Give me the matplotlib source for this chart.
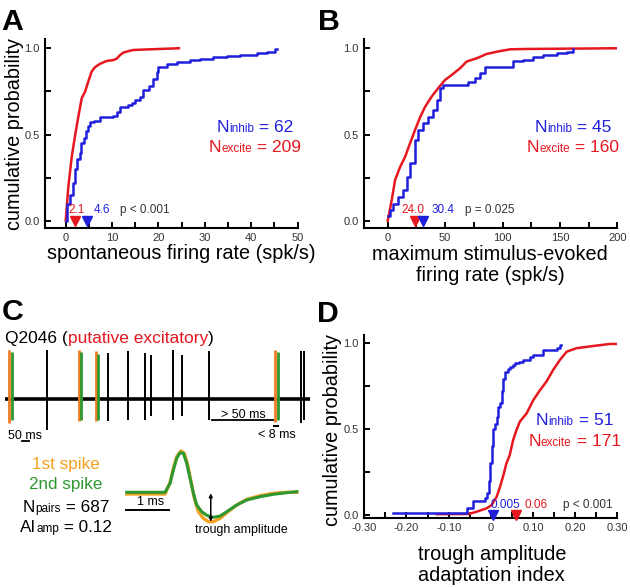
import matplotlib
matplotlib.use('Agg')
import matplotlib.pyplot as plt
from matplotlib.ticker import MultipleLocator, FixedLocator
from matplotlib.transforms import Affine2D, offset_copy

plt.rcParams['font.family'] = ['Liberation Sans', 'DejaVu Sans']

RED = '#E6171E'
BLUE = '#2020DC'
ORANGE = '#F4A21F'
ORANGE_TR = '#EF7B22'
GREEN = '#2E9830'
GREY = '#333333'

# ---- panel A: spontaneous firing rate (spk/s) ----
a_exc_x = [0, 0.57, 1.3, 2.0, 2.7, 3.45, 4.2, 4.9, 5.6, 6.3, 7.4, 8.8, 10.3, 11, 11.7, 12.4, 13.9, 14.6, 18.2, 24.4]
a_exc_y = [0, 0.197, 0.37, 0.49, 0.60, 0.71, 0.75, 0.81, 0.865, 0.89, 0.91, 0.926, 0.932, 0.94, 0.96, 0.975, 0.986, 0.99, 0.994, 1.0]
a_inh_x = [0, 0.2, 1.0, 1.5, 2.0, 2.4, 3.0, 3.4, 3.9, 4.3, 4.7, 5.3, 6.0, 7.4, 10.3, 11.0, 11.7, 13.5, 14.2, 15.0,
           16.0, 16.7, 18.0, 18.9, 19.6, 20.0, 21.8, 23.9, 26.8, 28.9, 31.8, 34.7, 37.6, 41.2, 43.3, 45.1, 45.5]
a_inh_y = [0, 0.10, 0.15, 0.22, 0.30, 0.36, 0.39, 0.45, 0.48, 0.52, 0.55, 0.57, 0.58, 0.60, 0.61, 0.63, 0.66, 0.67, 0.68, 0.70,
           0.72, 0.76, 0.78, 0.82, 0.86, 0.89, 0.91, 0.92, 0.93, 0.94, 0.95, 0.955, 0.96, 0.97, 0.98, 0.995, 0.995]
a_median = {'exc': 2.1, 'inh': 4.6}
a_n = {'inh': 62, 'exc': 209}

# ---- panel B: max stimulus-evoked firing rate (spk/s) ----
b_exc_x = [0, 3.5, 6.4, 10.7, 15.1, 19.5, 23.8, 28.2, 32.5, 38.3, 44.1, 49.9, 55.7, 63, 68.8, 77.5, 86.2, 95, 106.6, 121, 199.5]
b_exc_y = [0, 0.12, 0.236, 0.31, 0.37, 0.45, 0.526, 0.60, 0.66, 0.72, 0.77, 0.816, 0.845, 0.884, 0.923, 0.942, 0.967, 0.98, 0.994, 0.996, 1.0]
b_inh_x = [0, 2, 4.9, 9.3, 13.6, 16.6, 19.5, 23.8, 26.7, 31, 35.4, 39.8, 42.7, 45.6, 48.5, 67.4, 70.3, 76.1, 80.4, 84.8,
           106.6, 109.5, 118, 126.9, 135.6, 147.2, 156, 161.7]
b_inh_y = [0.03, 0.06, 0.10, 0.14, 0.178, 0.255, 0.333, 0.468, 0.526, 0.565, 0.60, 0.64, 0.70, 0.77, 0.787, 0.787, 0.807, 0.826, 0.855, 0.894,
           0.894, 0.926, 0.932, 0.952, 0.961, 0.971, 0.98, 0.994]
b_median = {'exc': 24.0, 'inh': 30.4}
b_n = {'inh': 45, 'exc': 160}

# ---- panel D: trough amplitude adaptation index ----
d_exc_x = [-0.128, -0.053, -0.034, -0.01, 0.002, 0.014, 0.022, 0.03, 0.037, 0.045, 0.053, 0.061, 0.069, 0.085, 0.101,
           0.117, 0.132, 0.148, 0.164, 0.18, 0.203, 0.243, 0.283, 0.298]
d_exc_y = [0.005, 0.006, 0.019, 0.039, 0.058, 0.107, 0.165, 0.233, 0.30, 0.35, 0.437, 0.495, 0.544, 0.592, 0.67,
           0.728, 0.777, 0.845, 0.903, 0.951, 0.971, 0.984, 0.996, 0.996]
d_inh_x = [-0.231, -0.057, -0.042, -0.014, -0.008, -0.004, -0.001, 0.002, 0.005, 0.010, 0.014, 0.018, 0.022, 0.026,
           0.030, 0.034, 0.040, 0.045, 0.052, 0.057, 0.068, 0.077, 0.093, 0.10, 0.124, 0.156, 0.164, 0.166]
d_inh_y = [0.014, 0.039, 0.083, 0.10, 0.13, 0.20, 0.30, 0.40, 0.50, 0.53, 0.57, 0.63, 0.65, 0.72,
           0.79, 0.835, 0.85, 0.864, 0.873, 0.883, 0.893, 0.903, 0.922, 0.932, 0.961, 0.971, 0.99, 0.99]
d_median = {'inh': 0.005, 'exc': 0.06}
d_n = {'inh': 51, 'exc': 171}

# ---- panel C: example trace (ms, amplitude) ----
black_t = [292, 723, 863, 980, 1022, 1178, 1237, 1430, 2072, 2093]
black_up = [49, 46, 48, 46, 44, 49, 44, 48, 48, 48]
black_dn = [-31, -22, -21, -21, -17, -21, -17, -21, -24, -21]
first_t = [29, 520, 637, 1891]
first_up = [49, 49, 48, 49]
first_dn = [-24, -22, -22, -23]
second_t = [48, 532, 653, 1909]
second_up = [47, 47, 45, 47]
second_dn = [-21, -21, -21, -21]
trace_len = 2135

# spike waveforms (ms, amplitude)
wf1_t = [0, 0.885, 1.0, 1.077, 1.154, 1.254, 1.331, 1.408, 1.485, 1.562, 1.654, 1.77, 1.885, 2.0, 2.155, 2.309,
         2.54, 2.771, 3.079, 3.386, 3.695, 3.926]
wf1_a = [-1.7, -1.7, 9.6, 24, 35.6, 41.3, 39, 27.3, 10.6, -6, -19.4, -26, -29.4, -29.4, -26, -20.4,
         -12.7, -7, -3.4, -1, 0, 0]
wf2_t = [0, 0.885, 1.0, 1.077, 1.154, 1.231, 1.308, 1.385, 1.462, 1.539, 1.616, 1.732, 1.847, 2.0, 2.155, 2.309,
         2.54, 2.771, 3.079, 3.386, 3.695, 3.926]
wf2_a = [0, 0, 9, 22.3, 34, 39.6, 39, 29, 14, -1, -12.7, -19.4, -23, -25, -23.7, -19.4,
         -12.7, -7.7, -4.4, -2, -0.4, 0.6]

W, H = 630, 587
fig = plt.figure(figsize=(W / 100, H / 100), dpi=100)
PX = Affine2D().scale(1, -1).translate(0, H)   # pixels from top-left
renderer = fig.canvas.get_renderer()


def rich(x, y, parts, transform, ha='center'):
    # several text pieces on one baseline
    arts = []
    for s, size, color in parts:
        t = fig.text(x, y, s, fontsize=size, color=color, transform=transform, ha='left', va='baseline')
        arts.append((t, t.get_window_extent(renderer).width))
    total = sum(w for _, w in arts)
    dx = -total / 2 if ha == 'center' else 0
    for t, w in arts:
        t.set_transform(offset_copy(transform, fig=fig, x=dx, y=0, units='dots'))
        dx += w


def px_axes(l, t, r, b):
    return fig.add_axes([l / W, 1 - b / H, (r - l) / W, (b - t) / H])


def cdf_axes(ax, xlim, ylim, major, minor):
    ax.set_xlim(*xlim)
    ax.set_ylim(*ylim)
    for s in ['top', 'right']:
        ax.spines[s].set_visible(False)
    for s in ['left', 'bottom']:
        ax.spines[s].set_linewidth(1.5)
    ax.xaxis.set_major_locator(MultipleLocator(major))
    ax.xaxis.set_minor_locator(MultipleLocator(minor))
    ax.yaxis.set_major_locator(FixedLocator([0, 0.5, 1.0]))
    ax.yaxis.set_minor_locator(FixedLocator([0.25, 0.75]))
    ax.set_yticklabels(['0.0', '0.5', '1.0'])
    ax.tick_params(which='both', direction='in', length=4, width=1.4, labelsize=8,
                   labelcolor=GREY)
    ax.tick_params(axis='x', pad=3.5)
    ax.tick_params(axis='y', pad=4)


def medians(ax, vals, labels, y_lab):
    for v, col in vals:
        ax.plot([v], [0.0], marker='v', ms=7, color=col, mec=col, clip_on=False, zorder=5)
    for x, s, col in labels:
        ax.text(x, y_lab, s, color=col, fontsize=8.5, ha='center', va='baseline')


def n_text(ax, x, y1, y2, n):
    rich(x, y1, [('N', 12.5, BLUE), ('inhib', 8.5, BLUE), (' = %d' % n['inh'], 12.5, BLUE)], ax.transData)
    rich(x, y2, [('N', 12.5, RED), ('excite', 8.5, RED), (' = %d' % n['exc'], 12.5, RED)], ax.transData)


# ---------- A ----------
axA = px_axes(45, 39.3, 297.7, 228)
cdf_axes(axA, (-4.46, 50), (-0.042, 1.052), 10, 5)
axA.plot(a_exc_x, a_exc_y, color=RED, lw=1.8)
axA.plot(a_inh_x, a_inh_y, color=BLUE, lw=1.8, drawstyle='steps-post')
medians(axA, [(a_median['exc'], RED), (a_median['inh'], BLUE)],
        [(2.3, '%.1f' % a_median['exc'], RED), (7.8, '%.1f' % a_median['inh'], BLUE), (17.1, 'p < 0.001', GREY)], 0.043)
n_text(axA, 40.8, 0.516, 0.40, a_n)
axA.set_xlabel('spontaneous firing rate (spk/s)', fontsize=14.3, va='top')
axA.xaxis.set_label_coords(0.541, -0.085)
axA.set_ylabel('cumulative probability', fontsize=14.3)
axA.yaxis.set_label_coords(-0.085, 0.50)

# ---------- B ----------
axB = px_axes(364.3, 39.3, 617.3, 228)
cdf_axes(axB, (-20.4, 200), (-0.042, 1.052), 50, 25)
axB.plot(b_exc_x, b_exc_y, color=RED, lw=1.8)
axB.plot(b_inh_x, b_inh_y, color=BLUE, lw=1.8, drawstyle='steps-post')
medians(axB, [(b_median['exc'], RED), (b_median['inh'], BLUE)],
        [(21.9, '%.1f' % b_median['exc'], RED), (48.4, '%.1f' % b_median['inh'], BLUE), (88.7, 'p = 0.025', GREY)], 0.043)
n_text(axB, 161.4, 0.513, 0.40, b_n)
axB.set_xlabel('maximum stimulus-evoked\nfiring rate (spk/s)', fontsize=14.3, va='top', linespacing=1.15)
axB.xaxis.set_label_coords(0.497, -0.09)

# ---------- D ----------
axD = px_axes(364.3, 335, 617.3, 518.3)
cdf_axes(axD, (-0.3, 0.3), (-0.019, 1.048), 0.1, 0.05)
axD.xaxis.set_major_locator(FixedLocator([-0.3, -0.2, -0.1, 0, 0.1, 0.2, 0.3]))
axD.set_xticklabels(['-0.30', '-0.20', '-0.10', '0', '0.10', '0.20', '0.30'])
axD.plot(d_exc_x, d_exc_y, color=RED, lw=1.8)
axD.plot(d_inh_x, d_inh_y, color=BLUE, lw=1.8, drawstyle='steps-post')
medians(axD, [(d_median['inh'], BLUE), (d_median['exc'], RED)],
        [(0.0356, '0.005', BLUE), (0.1067, '0.06', RED), (0.229, 'p < 0.001', GREY)], 0.039)
n_text(axD, 0.1985, 0.524, 0.402, d_n)
axD.set_xlabel('trough amplitude\nadaptation index', fontsize=14.3, va='top', linespacing=1.1)
axD.xaxis.set_label_coords(0.504, -0.148)
axD.set_ylabel('cumulative probability', fontsize=14.3)
axD.yaxis.set_label_coords(-0.09, 0.48)

# ---------- C: trace ----------
axT = px_axes(5, 340, 310, 445)
axT.set_xlim(0, trace_len)
axT.set_ylim(-45.7, 59.3)
axT.axis('off')
axT.plot([0, trace_len], [0, 0], color='k', lw=2.6, solid_capstyle='butt')
axT.vlines(black_t, black_dn, black_up, color='k', lw=1.4)
axT.vlines(first_t, first_dn, first_up, color=ORANGE_TR, lw=2.0)
axT.vlines(second_t, second_dn, second_up, color=GREEN, lw=2.0)
axT.plot([117, 167], [-41.7, -41.7], color='k', lw=1.3)
axT.text(140, -39.7, '50 ms', fontsize=9, ha='center', va='baseline')
axT.plot([1447, 1878], [-20.7, -20.7], color='k', lw=1.3)
axT.text(1668, -18.2, '> 50 ms', fontsize=9, ha='center', va='baseline')
axT.plot([1885, 1913], [-26.7, -26.7], color='k', lw=1.5)
axT.text(1902, -38.7, '< 8 ms', fontsize=9, ha='center', va='baseline')

rich(5, 343, [('Q2046 (', 12.5, 'k'), ('putative excitatory', 12.5, RED), (')', 12.5, 'k')], PX, ha='left')

# ---------- C: waveforms ----------
axW = px_axes(120, 440, 300, 540)
axW.set_xlim(-0.155, 4.0)
axW.set_ylim(-47.7, 52.3)
axW.axis('off')
axW.plot(wf1_t, wf1_a, color=ORANGE, lw=2.4, solid_joinstyle='round')
axW.plot(wf2_t, wf2_a, color=GREEN, lw=2.2, solid_joinstyle='round')
axW.plot([-0.017, 0.983], [-17.7, -17.7], color='k', lw=1.4)
axW.text(0.557, -12.7, '1 ms', fontsize=9, ha='center', va='baseline')
axW.annotate('', xy=(1.94, -29.4), xytext=(1.94, -1),
             arrowprops=dict(arrowstyle='<|-|>', lw=1.1, color='k', shrinkA=0, shrinkB=0, mutation_scale=5))
axW.text(2.656, -41, 'trough amplitude', fontsize=8.9, ha='center', va='baseline')

fig.text(66, 469.3, '1st spike', fontsize=12.3, color=ORANGE, ha='center', va='baseline', transform=PX)
fig.text(66, 489, '2nd spike', fontsize=12.3, color=GREEN, ha='center', va='baseline', transform=PX)
rich(66, 511.7, [('N', 12.3, 'k'), ('pairs', 8.5, 'k'), (' = 687', 12.3, 'k')], PX)
rich(66, 531.7, [('AI', 12.3, 'k'), ('amp', 8.5, 'k'), (' = 0.12', 12.3, 'k')], PX)

# panel letters
for lab, x, y in [('A', 1.7, 30), ('B', 318, 30), ('C', 1.7, 320.5), ('D', 316.7, 321.5)]:
    fig.text(x, y, lab, fontsize=21.8, fontweight='bold', ha='left', va='baseline', transform=PX)

fig.savefig('out.png', dpi=100)
